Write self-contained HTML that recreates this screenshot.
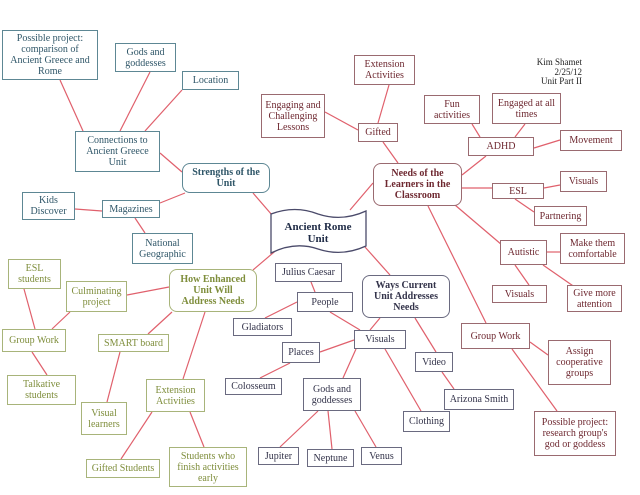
<!DOCTYPE html>
<html><head><meta charset="utf-8"><style>
body{margin:0;width:640px;height:495px;background:#fff;position:relative;overflow:hidden;font-family:"Liberation Serif",serif;font-size:10px;line-height:11px}
.b{position:absolute;box-sizing:border-box;border:1.5px solid;display:flex;align-items:center;justify-content:center;text-align:center;background:#fff}
.bl{border-color:#5d8794;color:#2f5668}
.r{border-color:#9a6a70;color:#6e2830}
.p{border-color:#6a6a80;color:#33334a}
.g{border-color:#a8b47a;color:#7f8e3c}
.rd{border-radius:8px;font-weight:bold}
svg{position:absolute;left:0;top:0}
</style></head><body>
<svg width="640" height="495"><g stroke="#e0606c" stroke-width="1.2" fill="none">
<line x1="60" y1="80" x2="83" y2="131"/><line x1="150" y1="72" x2="120" y2="131"/><line x1="182" y1="90" x2="145" y2="131"/><line x1="160" y1="153" x2="182" y2="172"/><line x1="185" y1="193" x2="160" y2="203"/><line x1="75" y1="209" x2="102" y2="211"/><line x1="135" y1="218" x2="145" y2="233"/><line x1="253" y1="193" x2="272" y2="215"/>
<line x1="373" y1="183" x2="350" y2="210"/><line x1="325" y1="112" x2="358" y2="130"/><line x1="378" y1="123" x2="389" y2="85"/><line x1="383" y1="142" x2="398" y2="163"/><line x1="462" y1="175" x2="486" y2="156"/><line x1="472" y1="124" x2="480" y2="137"/><line x1="525" y1="124" x2="515" y2="137"/><line x1="534" y1="148" x2="560" y2="140"/><line x1="462" y1="188" x2="492" y2="188"/><line x1="544" y1="188" x2="560" y2="185"/><line x1="515" y1="199" x2="534" y2="212"/><line x1="455" y1="205" x2="502" y2="245"/><line x1="547" y1="252" x2="560" y2="252"/><line x1="515" y1="265" x2="529" y2="285"/><line x1="543" y1="265" x2="579" y2="290"/><line x1="428" y1="206" x2="486" y2="323"/><line x1="530" y1="342" x2="548" y2="355"/><line x1="512" y1="349" x2="557" y2="411"/>
<line x1="365" y1="247" x2="390" y2="275"/><line x1="380" y1="318" x2="370" y2="330"/><line x1="415" y1="318" x2="436" y2="352"/><line x1="442" y1="372" x2="454" y2="389"/><line x1="330" y1="312" x2="360" y2="330"/><line x1="311" y1="282" x2="315" y2="292"/><line x1="297" y1="302" x2="265" y2="318"/><line x1="354" y1="340" x2="320" y2="352"/><line x1="290" y1="363" x2="260" y2="378"/><line x1="356" y1="349" x2="343" y2="378"/><line x1="385" y1="349" x2="421" y2="411"/><line x1="318" y1="411" x2="280" y2="447"/><line x1="328" y1="411" x2="332" y2="449"/><line x1="355" y1="411" x2="376" y2="447"/>
<line x1="280" y1="247" x2="253" y2="270"/><line x1="169" y1="287" x2="127" y2="295"/><line x1="70" y1="312" x2="52" y2="329"/><line x1="24" y1="289" x2="35" y2="329"/><line x1="32" y1="352" x2="47" y2="375"/><line x1="172" y1="312" x2="148" y2="334"/><line x1="120" y1="352" x2="107" y2="402"/><line x1="205" y1="312" x2="183" y2="379"/><line x1="152" y1="412" x2="121" y2="459"/><line x1="190" y1="412" x2="204" y2="447"/>
</g>
<path d="M271 214 Q295 205 318 214 Q342 222 366 211 L366 246 Q342 257 318 249 Q295 241 271 253 Z" fill="#fff" stroke="#4a4a6a" stroke-width="1.3"/>
<text x="318" y="230" text-anchor="middle" font-family="Liberation Serif" font-weight="bold" font-size="11" fill="#1e2a45">Ancient Rome</text>
<text x="318" y="242" text-anchor="middle" font-family="Liberation Serif" font-weight="bold" font-size="11" fill="#1e2a45">Unit</text>
</svg>
<div style="position:absolute;left:500px;top:58px;width:82px;text-align:right;font-size:9px;line-height:9.5px;color:#222">Kim Shamet<br>2/25/12<br>Unit Part II</div>

<div class="b bl" style="left:2px;top:30px;width:96px;height:50px">Possible project:<br>comparison of<br>Ancient Greece and<br>Rome</div>
<div class="b bl" style="left:115px;top:43px;width:61px;height:29px">Gods and<br>goddesses</div>
<div class="b bl" style="left:182px;top:71px;width:57px;height:19px">Location</div>
<div class="b bl" style="left:75px;top:131px;width:85px;height:41px">Connections to<br>Ancient Greece<br>Unit</div>
<div class="b bl rd" style="left:182px;top:163px;width:88px;height:30px">Strengths of the<br>Unit</div>
<div class="b bl" style="left:22px;top:192px;width:53px;height:28px">Kids<br>Discover</div>
<div class="b bl" style="left:102px;top:200px;width:58px;height:18px">Magazines</div>
<div class="b bl" style="left:132px;top:233px;width:61px;height:31px">National<br>Geographic</div>

<div class="b r" style="left:354px;top:55px;width:61px;height:30px">Extension<br>Activities</div>
<div class="b r" style="left:261px;top:94px;width:64px;height:44px">Engaging and<br>Challenging<br>Lessons</div>
<div class="b r" style="left:358px;top:123px;width:40px;height:19px">Gifted</div>
<div class="b r" style="left:424px;top:95px;width:56px;height:29px">Fun<br>activities</div>
<div class="b r" style="left:492px;top:93px;width:69px;height:31px">Engaged at all<br>times</div>
<div class="b r" style="left:468px;top:137px;width:66px;height:19px">ADHD</div>
<div class="b r" style="left:560px;top:130px;width:62px;height:21px">Movement</div>
<div class="b r rd" style="left:373px;top:163px;width:89px;height:43px">Needs of the<br>Learners in the<br>Classroom</div>
<div class="b r" style="left:492px;top:183px;width:52px;height:16px">ESL</div>
<div class="b r" style="left:560px;top:171px;width:47px;height:21px">Visuals</div>
<div class="b r" style="left:534px;top:206px;width:53px;height:20px">Partnering</div>
<div class="b r" style="left:500px;top:240px;width:47px;height:25px">Autistic</div>
<div class="b r" style="left:560px;top:233px;width:65px;height:31px">Make them<br>comfortable</div>
<div class="b r" style="left:492px;top:285px;width:55px;height:18px">Visuals</div>
<div class="b r" style="left:567px;top:285px;width:55px;height:27px">Give more<br>attention</div>
<div class="b r" style="left:461px;top:323px;width:69px;height:26px">Group Work</div>
<div class="b r" style="left:548px;top:340px;width:63px;height:45px">Assign<br>cooperative<br>groups</div>
<div class="b r" style="left:534px;top:411px;width:82px;height:45px">Possible project:<br>research group's<br>god or goddess</div>

<div class="b p" style="left:275px;top:263px;width:67px;height:19px">Julius Caesar</div>
<div class="b p" style="left:297px;top:292px;width:56px;height:20px">People</div>
<div class="b p" style="left:233px;top:318px;width:59px;height:18px">Gladiators</div>
<div class="b p rd" style="left:362px;top:275px;width:88px;height:43px">Ways Current<br>Unit Addresses<br>Needs</div>
<div class="b p" style="left:354px;top:330px;width:52px;height:19px">Visuals</div>
<div class="b p" style="left:282px;top:342px;width:38px;height:21px">Places</div>
<div class="b p" style="left:225px;top:378px;width:57px;height:17px">Colosseum</div>
<div class="b p" style="left:415px;top:352px;width:38px;height:20px">Video</div>
<div class="b p" style="left:303px;top:378px;width:58px;height:33px">Gods and<br>goddesses</div>
<div class="b p" style="left:444px;top:389px;width:70px;height:21px">Arizona Smith</div>
<div class="b p" style="left:403px;top:411px;width:47px;height:21px">Clothing</div>
<div class="b p" style="left:258px;top:447px;width:41px;height:18px">Jupiter</div>
<div class="b p" style="left:307px;top:449px;width:47px;height:18px">Neptune</div>
<div class="b p" style="left:361px;top:447px;width:41px;height:18px">Venus</div>

<div class="b g" style="left:8px;top:259px;width:53px;height:30px">ESL<br>students</div>
<div class="b g" style="left:66px;top:281px;width:61px;height:31px">Culminating<br>project</div>
<div class="b g rd" style="left:169px;top:269px;width:88px;height:43px">How Enhanced<br>Unit Will<br>Address Needs</div>
<div class="b g" style="left:2px;top:329px;width:64px;height:23px">Group Work</div>
<div class="b g" style="left:98px;top:334px;width:71px;height:18px">SMART board</div>
<div class="b g" style="left:7px;top:375px;width:69px;height:30px">Talkative<br>students</div>
<div class="b g" style="left:146px;top:379px;width:59px;height:33px">Extension<br>Activities</div>
<div class="b g" style="left:81px;top:402px;width:46px;height:33px">Visual<br>learners</div>
<div class="b g" style="left:86px;top:459px;width:74px;height:19px">Gifted Students</div>
<div class="b g" style="left:169px;top:447px;width:78px;height:40px">Students who<br>finish activities<br>early</div>
</body></html>
